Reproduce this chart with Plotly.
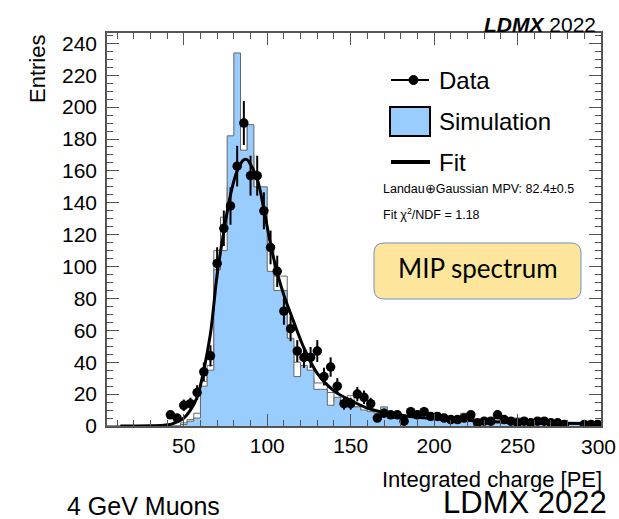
import numpy as np
import plotly.graph_objects as go

# ---------------- data ----------------
bin_width = 4
bin_low = 4
bin_centers = [6 + 4 * i for i in range(74)]

data_counts = [0, 0, 0, 0, 0, 0, 0, 0, 0,
               7, 5, 13, 14, 21, 34, 44, 102, 124, 138, 163, 190, 157, 157, 135,
               112, 97, 72, 61, 47, 43, 43, 47, 31, 37, 25, 14, 14, 20, 18, 14,
               5, 8, 7, 7, 3, 9, 7, 9, 6, 6, 5, 4, 4, 5, 7, 2, 3, 3, 7, 4,
               3, 2, 3, 2, 3, 3, 2, 2, 1, 0, 0, 1, 1, 1]

sim_counts = [0, 0, 0, 0, 0, 0, 0, 0, 0, 0, 0,
              1, 3, 5, 25, 35, 98, 110, 182, 234, 173, 189, 150, 150,
              97, 85, 85, 55, 31, 38, 35, 23, 23, 13, 18, 14, 12, 12, 10, 9,
              8, 12, 9, 7, 6, 6, 5, 5, 4, 5, 4, 4, 3, 8, 7, 3, 3, 2, 2, 2,
              2, 5, 2, 2, 1, 1, 1, 1, 1, 1, 1, 0, 0, 0]

alt_counts = [0, 0, 0, 0, 0, 0, 0, 0, 0, 0, 0,
              2, 4, 8, 28, 38, 110, 131, 150, 170, 188, 170, 145, 130,
              110, 94, 94, 50, 40, 35, 30, 27, 27, 21, 15, 12, 19, 12, 9, 8,
              7, 10, 8, 6, 5, 5, 4, 4, 4, 4, 4, 3, 3, 3, 3, 3, 2, 2, 2, 2,
              2, 2, 2, 1, 1, 1, 1, 1, 1, 1, 1, 1, 1, 1]

fit_x = [12, 20, 30, 38, 42, 46, 50, 54, 58, 62, 66, 70, 74, 78, 82, 86, 88, 90,
         94, 98, 102, 106, 110, 116, 122, 130, 140, 150, 162, 175, 190, 210,
         230, 250, 275, 300]
fit_y = [0, 0, 0.1, 0.5, 1, 2.5, 5, 10, 18, 35, 58, 95, 122, 145, 160, 167, 167,
         164, 155, 136, 114, 96, 82, 65, 49, 33, 22, 16, 10.5, 7.5, 5.5, 4, 3,
         2.3, 1.8, 1.5]

x_ticks = [50, 100, 150, 200, 250]
x_last_tick = 300
y_ticks = list(range(0, 241, 20))

# ---------------- geometry helpers ----------------
W, H = 619, 519
L, R, T, B = 107, 18, 33, 93
PW, PH = W - L - R, H - T - B


def px(x):
    return (x - L) / PW


def py(y):
    return (H - B - y) / PH


edges = [bin_low + bin_width * i for i in range(len(bin_centers) + 1)]

fig = go.Figure()

# underlying (white) histogram
fig.add_trace(go.Scatter(
    x=edges, y=alt_counts + [alt_counts[-1]], mode="lines", line_shape="hv",
    fill="tozeroy", fillcolor="white", line=dict(color="#666666", width=1),
    hoverinfo="skip", showlegend=False))

# simulation histogram
fig.add_trace(go.Scatter(
    x=edges, y=sim_counts + [sim_counts[-1]], mode="lines", line_shape="hv",
    fill="tozeroy", fillcolor="#99ccff", line=dict(color="#666666", width=1),
    name="Simulation", showlegend=False))

# data points
dx = [c for c, n in zip(bin_centers, data_counts) if n > 0]
dy = [n for n in data_counts if n > 0]
de = [float(np.sqrt(n)) for n in dy]
fig.add_trace(go.Scatter(
    x=dx, y=dy, mode="markers", name="Data",
    marker=dict(color="black", size=9.5),
    error_y=dict(type="data", array=de, color="black", thickness=2, width=0),
    showlegend=False))

# fit
fig.add_trace(go.Scatter(
    x=fit_x, y=fit_y, mode="lines", line_shape="spline", name="Fit",
    line=dict(color="black", width=3), showlegend=False))

font_main = "Liberation Sans, Arial, Helvetica, sans-serif"

axis_common = dict(
    showline=True, linecolor="#555555", linewidth=1.5, mirror="allticks",
    ticks="inside", tickcolor="#555555", tickwidth=1.2, ticklen=12,
    showgrid=False, zeroline=False,
    tickfont=dict(family=font_main, size=21, color="black"),
)

fig.update_xaxes(range=[bin_low, edges[-1]], tickvals=x_ticks,
                 minor=dict(dtick=10, tick0=0, ticks="inside", ticklen=6,
                            tickcolor="#555555", tickwidth=1.2),
                 **axis_common)
fig.update_yaxes(range=[0, 246.5], tickvals=y_ticks,
                 minor=dict(dtick=5, tick0=0, ticks="inside", ticklen=6,
                            tickcolor="#555555", tickwidth=1.2),
                 ticklabelstandoff=4,
                 **axis_common)

shapes = []
annotations = []

# last x tick label (kept inside the page so it does not widen it)
annotations.append(dict(text=str(x_last_tick), xref="paper", yref="paper",
                        x=px(618), y=py(446), xanchor="right", yanchor="middle",
                        showarrow=False,
                        font=dict(family=font_main, size=21, color="black")))

# legend (drawn by hand to match ROOT style)
shapes.append(dict(type="line", xref="paper", yref="paper",
                   x0=px(391), x1=px(429), y0=py(80), y1=py(80),
                   line=dict(color="black", width=2)))
shapes.append(dict(type="circle", xref="paper", yref="paper",
                   x0=px(409), x1=px(418), y0=py(75.5), y1=py(84.5),
                   fillcolor="black", line=dict(color="black", width=1)))
shapes.append(dict(type="rect", xref="paper", yref="paper",
                   x0=px(390), x1=px(430), y0=py(107), y1=py(136),
                   fillcolor="#99ccff", line=dict(color="black", width=2)))
shapes.append(dict(type="line", xref="paper", yref="paper",
                   x0=px(391), x1=px(430), y0=py(162), y1=py(162),
                   line=dict(color="black", width=4)))
for txt, yy in [("Data", 80), ("Simulation", 121), ("Fit", 163)]:
    annotations.append(dict(text=txt, xref="paper", yref="paper",
                            x=px(437), y=py(yy), xanchor="left", yanchor="middle",
                            showarrow=False,
                            font=dict(family=font_main, size=24, color="black")))
annotations.append(dict(text="Landau\u2295Gaussian MPV: 82.4\u00b10.5", xref="paper",
                        yref="paper", x=px(381), y=py(189), xanchor="left",
                        yanchor="middle", showarrow=False,
                        font=dict(family=font_main, size=12.5, color="black")))
annotations.append(dict(text="Fit \u03c7<sup>2</sup>/NDF = 1.18", xref="paper",
                        yref="paper", x=px(381), y=py(214), xanchor="left",
                        yanchor="middle", showarrow=False,
                        font=dict(family=font_main, size=12.5, color="black")))

# MIP spectrum box (rounded)
bx0, bx1, by0, by1, rr = 374, 581, 243, 299, 10
def P(x, y):
    return f"{px(x):.5f},{py(y):.5f}"
path = (f"M {P(bx0 + rr, by0)} L {P(bx1 - rr, by0)} Q {P(bx1, by0)} {P(bx1, by0 + rr)} "
        f"L {P(bx1, by1 - rr)} Q {P(bx1, by1)} {P(bx1 - rr, by1)} "
        f"L {P(bx0 + rr, by1)} Q {P(bx0, by1)} {P(bx0, by1 - rr)} "
        f"L {P(bx0, by0 + rr)} Q {P(bx0, by0)} {P(bx0 + rr, by0)} Z")
shapes.append(dict(type="path", xref="paper", yref="paper", path=path,
                   fillcolor="#fde69c", line=dict(color="#6f8fc4", width=1)))
annotations.append(dict(text="MIP spectrum", xref="paper", yref="paper",
                        x=px(477.5), y=py(268), xanchor="center", yanchor="middle",
                        showarrow=False,
                        font=dict(family="Lato, Open Sans, sans-serif", size=26,
                                  color="black")))

# top-right label
annotations.append(dict(text="<b><i>LDMX</i></b> 2022", xref="paper", yref="paper",
                        x=px(598), y=py(24), xanchor="right", yanchor="middle",
                        showarrow=False,
                        font=dict(family=font_main, size=21, color="black")))

# axis titles
annotations.append(dict(text="Integrated charge [PE]", xref="paper", yref="paper",
                        x=px(604), y=py(479), xanchor="right", yanchor="middle",
                        showarrow=False,
                        font=dict(family=font_main, size=22, color="black")))
annotations.append(dict(text="Entries", xref="paper", yref="paper",
                        x=px(37), y=py(33), xanchor="center", yanchor="top",
                        textangle=-90, showarrow=False,
                        font=dict(family=font_main, size=22, color="black")))

# bottom captions
annotations.append(dict(text="4 GeV Muons", xref="paper", yref="paper",
                        x=px(65), y=py(506), xanchor="left", yanchor="middle",
                        showarrow=False,
                        font=dict(family=font_main, size=25, color="black")))
annotations.append(dict(text="LDMX 2022", xref="paper", yref="paper",
                        x=px(609), y=py(502), xanchor="right", yanchor="middle",
                        showarrow=False,
                        font=dict(family=font_main, size=31, color="black")))

fig.update_layout(
    width=W, height=H, autosize=False,
    margin=dict(l=L, r=R, t=T, b=B, pad=0),
    paper_bgcolor="white", plot_bgcolor="white",
    showlegend=False,
    shapes=shapes, annotations=annotations,
)

fig.write_html(
    "out.html",
    config={"displayModeBar": False, "responsive": False},
    post_script=("document.body.style.margin='0px';"
                 "document.body.style.overflow='hidden';"
                 "var gd=document.getElementById('{plot_id}');"
                 "Plotly.relayout(gd,{width:%d,height:%d});" % (W, H)),
)
